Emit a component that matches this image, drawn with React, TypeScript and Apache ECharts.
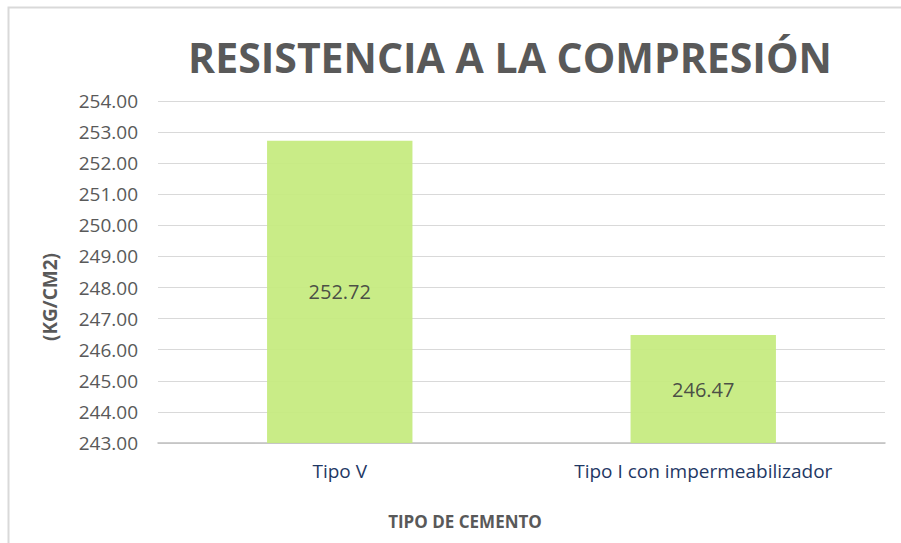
import React, { useEffect, useRef } from "react";
import * as echarts from "echarts";

const categories = ["Tipo V", "Tipo I con impermeabilizador"];
const values = [252.72, 246.47];
const yMin = 243;
const yMax = 254;
const yInterval = 1;

export default function App() {
  const ref = useRef<HTMLDivElement>(null);
  useEffect(() => {
    if (!ref.current) return;
    const chart = echarts.init(ref.current, null, { renderer: "svg" });
    chart.setOption({
      animation: false,
      backgroundColor: "#ffffff",
      textStyle: { fontFamily: "Open Sans" },
      title: {
        text: "RESISTENCIA A LA COMPRESIÓN",
        left: 505,
        top: 31,
        textAlign: "center",
        textStyle: { fontSize: 41, fontWeight: "bold", color: "#595959", fontFamily: "Open Sans" },
      },
      grid: { left: 158, right: 16, top: 101, bottom: 100 },
      xAxis: {
        type: "category",
        data: categories,
        axisLine: { lineStyle: { color: "#bfbfbf", width: 1.5 } },
        axisTick: { show: false },
        axisLabel: { color: "#1f3864", fontSize: 19, margin: 18 },
      },
      yAxis: {
        type: "value",
        min: yMin,
        max: yMax,
        interval: yInterval,
        axisLine: { show: false },
        axisTick: { show: false },
        splitLine: { lineStyle: { color: "#d9d9d9", width: 1 } },
        axisLabel: {
          color: "#595959",
          fontSize: 19,
          margin: 20,
          formatter: (v: number) => v.toFixed(2),
        },
      },
      series: [
        {
          type: "bar",
          data: values,
          barWidth: "40%",
          itemStyle: { color: "#c5eb7e", opacity: 0.93 },
          label: {
            show: true,
            position: "inside",
            color: "#404040",
            fontSize: 20,
            formatter: (p: any) => Number(p.value).toFixed(2),
          },
        },
      ],
      graphic: [
        {
          type: "rect",
          shape: { x: 8.5, y: 7.5, width: 1000, height: 600 },
          style: { fill: "none", stroke: "#d9d9d9", lineWidth: 2 },
          silent: true,
        },
        {
          type: "text",
          x: 50,
          y: 297,
          rotation: Math.PI / 2,
          style: {
            text: "(KG/CM2)",
            fill: "#595959",
            fontSize: 19,
            fontWeight: "bold",
            fontFamily: "Open Sans",
            align: "center",
            verticalAlign: "middle",
          },
        },
        {
          type: "text",
          x: 465,
          y: 521,
          style: {
            text: "TIPO DE CEMENTO",
            fill: "#595959",
            fontSize: 17,
            fontWeight: "bold",
            fontFamily: "Open Sans",
            align: "center",
            verticalAlign: "middle",
          },
        },
      ],
    });
    return () => chart.dispose();
  }, []);
  return (
    <div
      ref={ref}
      style={{ position: "absolute", left: 0, top: 0, width: 901, height: 543 }}
    />
  );
}
